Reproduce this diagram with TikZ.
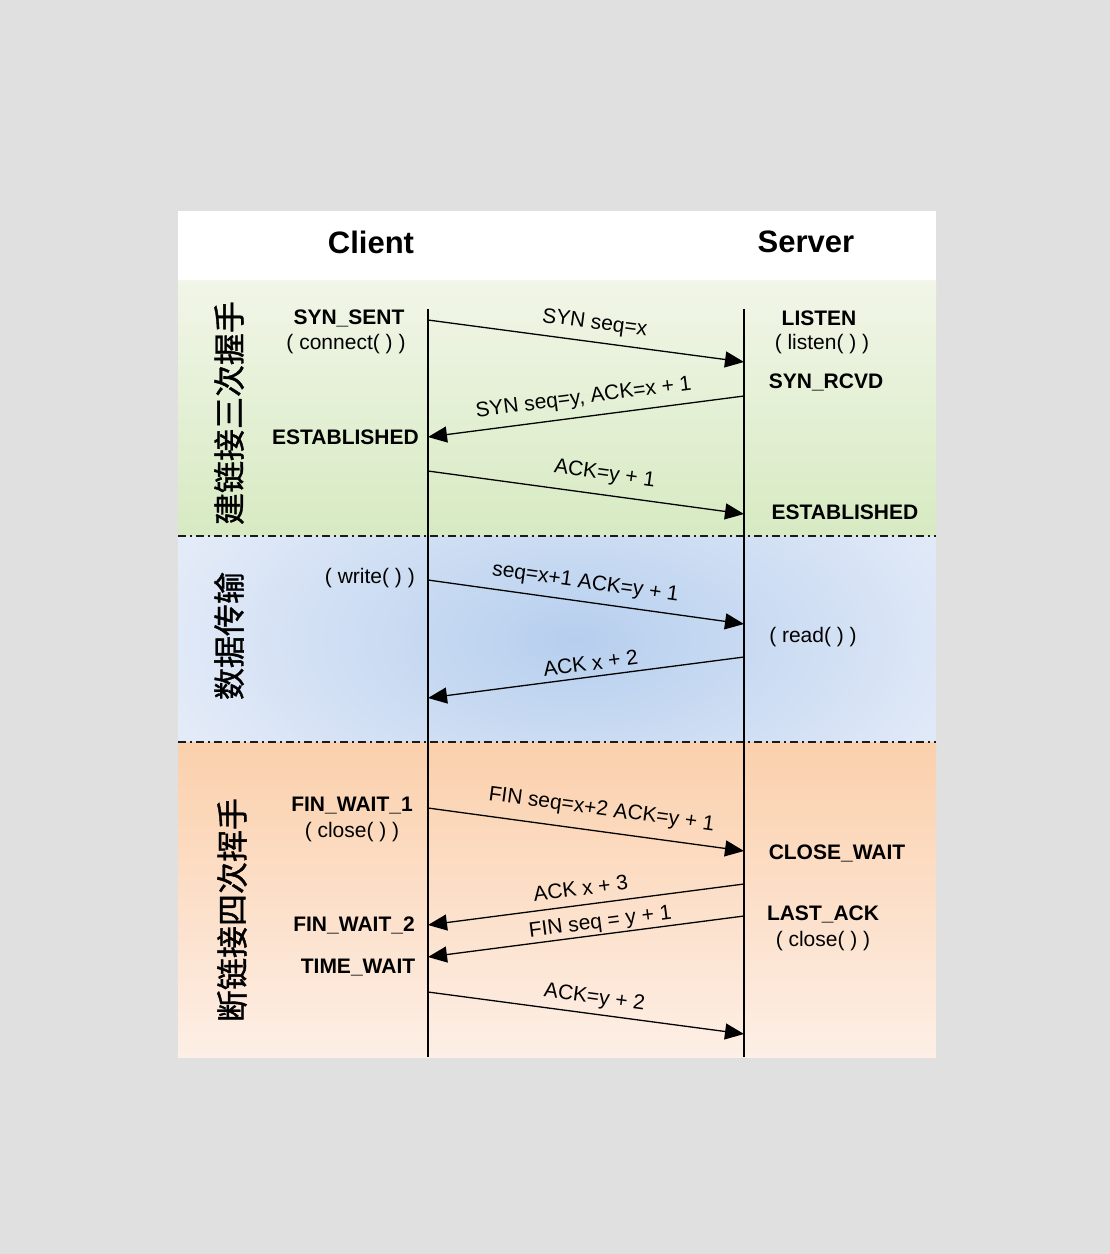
\documentclass[tikz,border=0pt]{standalone}
\usepackage{fontspec}
\setmainfont{Liberation Sans}
\newfontfamily\cjk{Noto Sans CJK SC}[FakeBold=1.2]
\usetikzlibrary{arrows.meta}
\definecolor{bggray}{HTML}{E0E0E0}
\definecolor{greenTop}{HTML}{F1F6E8}
\definecolor{greenBot}{HTML}{D7EAC2}
\definecolor{blueC}{HTML}{B6CFEE}
\definecolor{blueE}{HTML}{E4EBF8}
\definecolor{orangeTop}{HTML}{FBD0AC}
\definecolor{orangeBot}{HTML}{FDEFE6}
\definecolor{sepgray}{HTML}{1A1A1A}
\tikzset{
  life/.style={line width=1.3pt, black},
  msg/.style={line width=1.3pt, black, -{Triangle[length=19pt,width=16pt]}},
  lbl/.style={sloped, anchor=base, inner sep=0pt, font=\fontsize{21}{24}\selectfont},
  st/.style={inner sep=0pt, font=\bfseries\fontsize{21}{24}\selectfont},
  fn/.style={inner sep=0pt, font=\fontsize{21}{24}\selectfont},
  hdr/.style={inner sep=0pt, font=\bfseries\fontsize{31}{34}\selectfont},
  phase/.style={inner sep=0pt, rotate=90, font=\cjk\fontsize{32}{34}\selectfont},
  sepline/.style={line width=1.4pt, sepgray, dash pattern=on 8pt off 4pt on 2pt off 4pt}
}
\begin{document}
\begin{tikzpicture}[x=1pt,y=-1pt]
\useasboundingbox (0,0) rectangle (1110,1254);
\fill[bggray] (0,0) rectangle (1110,1254);
% panels
\fill[white] (178,211) rectangle (936,280);
\shade[top color=greenTop, bottom color=greenBot] (178,280) rectangle (936,536);
\fill[blueE] (178,536) rectangle (936,742);
\begin{scope}
  \clip (178,536) rectangle (936,742);
  \shade[inner color=blueC, outer color=blueE] (575,640) ellipse (430 and 230);
\end{scope}
\shade[top color=orangeTop, bottom color=orangeBot] (178,742) rectangle (936,1057);
\draw[sepline] (178,536) -- (936,536);
\draw[sepline] (178,742) -- (936,742);

% header
\node[hdr] (client) at (371,242) {Client};
\node[hdr] (server) at (806,242) {Server};

% phase titles
\node[phase] (ph1) at (229,413) {建链接三次握手};
\node[phase] (ph2) at (229,636) {数据传输};
\node[phase] (ph3) at (232,910) {断链接四次挥手};

% lifelines
\coordinate (cTop) at (428,309);
\coordinate (cBot) at (428,1057);
\coordinate (sTop) at (744,309);
\coordinate (sBot) at (744,1057);
\draw[life] (cTop) -- (cBot);
\draw[life] (sTop) -- (sBot);

% message end points
\coordinate (c1) at (428,320); \coordinate (s1) at (744,362);
\coordinate (c2) at (428,437); \coordinate (s2) at (744,396);
\coordinate (c3) at (428,471); \coordinate (s3) at (744,514);
\coordinate (c4) at (428,580); \coordinate (s4) at (744,624);
\coordinate (c5) at (428,698); \coordinate (s5) at (744,657);
\coordinate (c6) at (428,808); \coordinate (s6) at (744,851);
\coordinate (c7) at (428,925); \coordinate (s7) at (744,884);
\coordinate (c8) at (428,957); \coordinate (s8) at (744,916);
\coordinate (c9) at (428,992); \coordinate (s9) at (744,1034);

\draw[msg] (c1) -- (s1);
\draw[msg] (s2) -- (c2);
\draw[msg] (c3) -- (s3);
\draw[msg] (c4) -- (s4);
\draw[msg] (s5) -- (c5);
\draw[msg] (c6) -- (s6);
\draw[msg] (s7) -- (c7);
\draw[msg] (s8) -- (c8);
\draw[msg] (c9) -- (s9);

% message labels
\path (c1) -- (s1) node[lbl, pos=.52, yshift=13pt] (l1) {SYN seq=x};
\path (c2) -- (s2) node[lbl, pos=.50, yshift=13pt] (l2) {SYN seq=y, ACK=x + 1};
\path (c3) -- (s3) node[lbl, pos=.55, yshift=15pt] (l3) {ACK=y + 1};
\path (c4) -- (s4) node[lbl, pos=.49, yshift=13.5pt] (l4) {seq=x+1 ACK=y + 1};
\path (c5) -- (s5) node[lbl, pos=.52, yshift=6.5pt] (l5) {ACK x + 2};
\path (c6) -- (s6) node[lbl, pos=.54, yshift=16pt] (l6) {FIN seq=x+2 ACK=y + 1};
\path (c7) -- (s7) node[lbl, pos=.49, yshift=9.5pt] (l7) {ACK x + 3};
\path (c8) -- (s8) node[lbl, pos=.55, yshift=6.5pt] (l8) {FIN seq = y + 1};
\path (c9) -- (s9) node[lbl, pos=.52, yshift=10.5pt] (l9) {ACK=y + 2};

% client states
\node[st] (synsent) at (349,318) {SYN\_SENT};
\node[fn] (connect) at (346,344) {( connect( ) )};
\node[st, anchor=east] (estc) at (419,437) {ESTABLISHED};
\node[fn, anchor=east] (write) at (415,578) {( write( ) )};
\node[st] (fw1) at (352,806) {FIN\_WAIT\_1};
\node[fn] (closec) at (352,832) {( close( ) )};
\node[st] (fw2) at (354,925) {FIN\_WAIT\_2};
\node[st] (tw) at (358,968) {TIME\_WAIT};

% server states
\node[st] (listen) at (819,318) {LISTEN};
\node[fn] (listenf) at (822,344) {( listen( ) )};
\node[st] (synrcvd) at (826,382) {SYN\_RCVD};
\node[st] (ests) at (845,512) {ESTABLISHED};
\node[fn] (read) at (813,637) {( read( ) )};
\node[st] (cw) at (837,853) {CLOSE\_WAIT};
\node[st] (la) at (823,914) {LAST\_ACK};
\node[fn] (closes) at (823,941) {( close( ) )};
\end{tikzpicture}
\end{document}
